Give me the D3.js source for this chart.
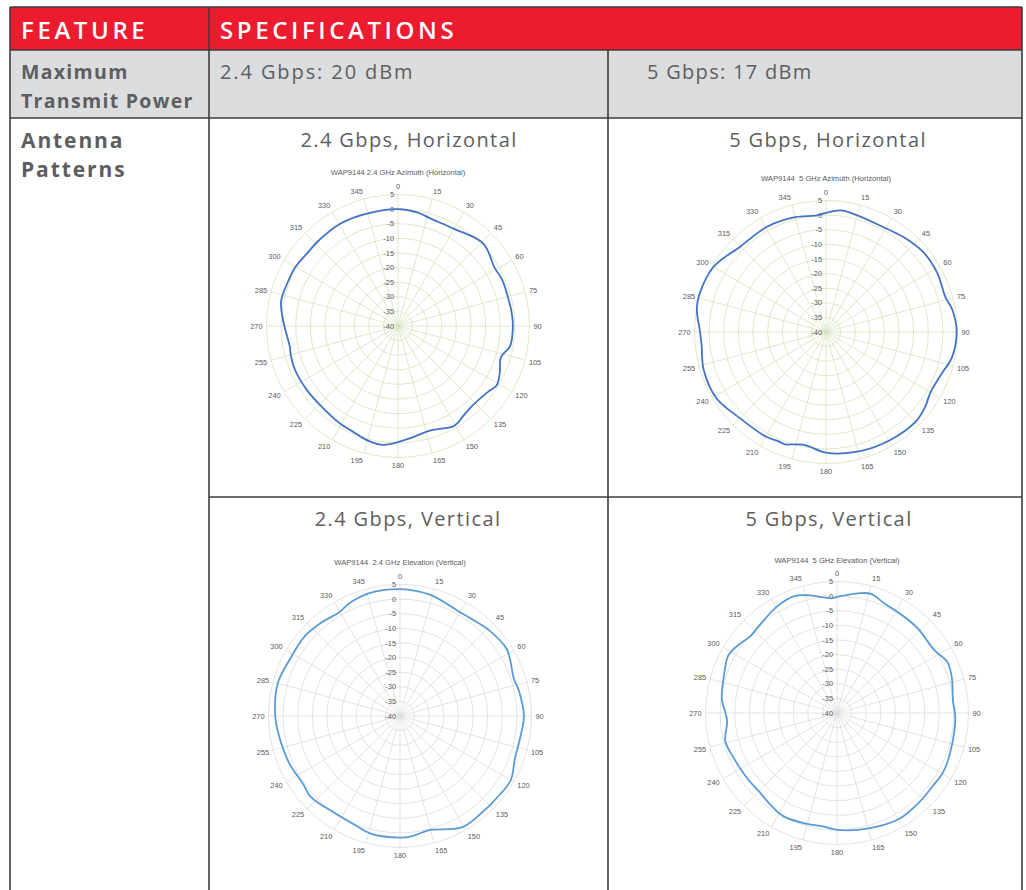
<!DOCTYPE html>
<html lang="en">
<head>
<meta charset="UTF-8">
<title>WAP9144 Antenna Patterns</title>
<script src="https://d3js.org/d3.v7.min.js"></script>
<style>
    body { margin: 0; background: #fff; }
    svg { display: block; }
    .hdr { font-family: "Open Sans", sans-serif; font-size: 24px; font-weight: 600; fill: #fff; letter-spacing: 3.6px; }
    .feat { font-family: "Open Sans", sans-serif; font-weight: 700; fill: #5d5e60; }
    .spec { font-family: "Open Sans", sans-serif; font-weight: 400; fill: #5d5e60; }
    .ptitle { font-family: "Liberation Sans", Arial, sans-serif; font-size: 7.6px; fill: #595959; text-anchor: middle; white-space: pre; }
    .plabel { font-family: "Liberation Sans", Arial, sans-serif; font-size: 7.4px; fill: #595959; }
    .chart { opacity: 0.999; }
</style>
</head>
<body>
<svg id="sheet" width="1026" height="890"></svg>
<script>
// spokes, clockwise from top (degrees)
const spokes = [0, 15, 30, 45, 60, 75, 90, 105, 120, 135, 150, 165,
                180, 195, 210, 225, 240, 255, 270, 285, 300, 315, 330, 345];

// ring labels in dBm
const ringTicks = [5, 0, -5, -10, -15, -20, -25, -30, -35, -40];

// 2.4 GHz azimuth (horizontal)
const az24Angles = [0, 10, 17, 30, 46, 59, 66, 74, 84, 90, 100, 107, 115, 121, 126, 136, 144, 147, 151,
                    158, 163, 176, 187, 195, 203, 211, 224, 235, 247, 255, 259, 273, 282, 291, 300,
                    309, 317, 331, 345];
const az24Gain = [0, -0.6, -1.6, -1.6, 0.6, -1.4, -1.0, -1.1, -0.8, -0.7, -1.0, -3.2, -1.6, -0.6, -1.8, -2.7, -2.0, -1.3, -0.8,
                  -2.0, -2.6, -1.0, 1.0, 0.5, -0.7, -1.2, -2.0, -1.9, -1.7, -2.0, -2.3, -0.6, 0.9, 0.6, 0.5,
                  -0.2, -0.1, 0.2, -0.1];

// 5 GHz azimuth (horizontal)
const az5Angles = [0, 7, 15, 29, 39, 51, 62, 74, 80, 90, 102, 109, 120, 127, 135, 149, 164, 180,
                   190, 195, 200, 204, 210, 225, 239, 253, 264, 270, 280, 286, 300, 315, 331, 345, 355];
const az5Gain = [0.8, 1.9, 1.3, 0.9, 1.9, 3.1, 3.1, 2.6, 3.9, 4.7, 3.9, 2.2, 1.3, 2.5, 3.4, 3.0, 2.4, 1.3,
                 -0.6, -0.2, 0.9, 0.8, 1.3, 1.7, 3.8, 3.8, 2.8, 3.1, 4.9, 5.2, 4.5, 1.4, 1.3, 0.7, 0.0];

// 2.4 GHz elevation (vertical)
const el24Angles = [0, 14, 31, 38, 46, 58, 72, 78, 90, 100, 110, 120, 128, 141, 151, 166, 174, 180,
                    194, 202, 213, 228, 235, 247, 260, 270, 285, 297, 310, 321, 329, 336, 346];
const el24Gain = [3.4, 2.7, 1.0, 1.4, 2.3, 3.1, 1.0, 1.6, 2.4, 1.8, 1.9, 3.8, 3.5, 3.4, 3.6, 0.3, 1.3, 1.6,
                  1.5, 0.4, 0.0, 1.2, 0.5, 1.2, 1.9, 2.7, 3.3, 2.4, 2.5, 1.7, 1.1, 2.3, 3.3];

// 5 GHz elevation (vertical)
const el5Angles = [0, 5, 11, 16, 23, 29, 35, 44, 57, 65, 73, 84, 92, 105, 119, 127, 137, 149, 164, 180,
                   187, 195, 207, 216, 224, 234, 247, 256, 266, 277, 287, 298, 304, 312, 318, 331, 340, 347, 357];
const el5Gain = [-0.3, 0.6, 1.8, 2.4, 0.9, 0.4, 0.2, 0.0, -0.4, 1.6, 1.1, -0.1, 0.5, 0.8, 1.6, 1.2, 1.5, 2.0, 1.0, 0.0,
                 -0.9, -0.7, -0.2, -1.2, -2.1, -2.0, -1.4, -0.6, -2.3, -0.3, 0.6, 2.1, 1.1, -0.4, 0.0, 1.9, 2.6, 1.3, -0.7];

const svg = d3.select("#sheet");

// ---- table ----
const red = "#ed1b2e", grey = "#dcdddf", rule = "#3d3d3d";
const left = 10, right = 1022, col1 = 209, col2 = 608;
const rowTop = 7, row1 = 50, row2 = 118, row3 = 497, bottom = 892;

svg.append("rect").attr("x", left).attr("y", rowTop).attr("width", right - left).attr("height", row1 - rowTop).attr("fill", red);
svg.append("rect").attr("x", left).attr("y", row1).attr("width", right - left).attr("height", row2 - row1).attr("fill", grey);

const lines = [
    [left, rowTop, right, rowTop], [left, row1, right, row1], [left, row2, right, row2],
    [col1, row3, right, row3],
    [left, rowTop, left, bottom], [right, rowTop, right, bottom],
    [col1, rowTop, col1, bottom], [col2, row1, col2, bottom]
];
svg.selectAll(".rule").data(lines).enter().append("line")
    .attr("x1", d => d[0]).attr("y1", d => d[1]).attr("x2", d => d[2]).attr("y2", d => d[3])
    .attr("stroke", rule).attr("stroke-width", 1.6);

svg.append("text").attr("class", "hdr").attr("x", 21).attr("y", 39).text("FEATURE");
svg.append("text").attr("class", "hdr").attr("x", 220).attr("y", 39).text("SPECIFICATIONS");

const featStyle = s => s.style("font-size", "19.5px").style("letter-spacing", "1.3px");
svg.append("text").attr("class", "feat").attr("x", 21).attr("y", 79).call(featStyle).text("Maximum");
svg.append("text").attr("class", "feat").attr("x", 21).attr("y", 108).call(featStyle).text("Transmit Power");
svg.append("text").attr("class", "spec").attr("x", 220).attr("y", 79)
    .style("font-size", "20px").style("letter-spacing", "1.9px").text("2.4 Gbps: 20 dBm");
svg.append("text").attr("class", "spec").attr("x", 647).attr("y", 79)
    .style("font-size", "20px").style("letter-spacing", "1.3px").text("5 Gbps: 17 dBm");

const antStyle = s => s.style("font-size", "21px").style("letter-spacing", "1.9px");
svg.append("text").attr("class", "feat").attr("x", 21).attr("y", 148).call(antStyle).text("Antenna");
svg.append("text").attr("class", "feat").attr("x", 21).attr("y", 177).call(antStyle).text("Patterns");

const subs = [
    { t: "2.4 Gbps, Horizontal", x: 409, y: 147 },
    { t: "5 Gbps, Horizontal", x: 828, y: 147 },
    { t: "2.4 Gbps, Vertical", x: 408, y: 526 },
    { t: "5 Gbps, Vertical", x: 829, y: 526 }
];
svg.selectAll(".sub").data(subs).enter().append("text")
    .attr("class", "spec").attr("x", d => d.x).attr("y", d => d.y)
    .attr("text-anchor", "middle").style("font-size", "20px").style("letter-spacing", "1.4px")
    .text(d => d.t);

// ---- polar charts ----
const R = 131.5;
const r = d3.scaleLinear().domain([-40, 5]).range([0, R]);
const rad = a => a * Math.PI / 180;

function polar(cfg) {
    const g = svg.append("g").attr("class", "chart").attr("transform", `translate(${cfg.cx},${cfg.cy})`);

    g.selectAll(".ring").data(ringTicks.slice(0, -1)).enter().append("circle")
        .attr("r", d => r(d)).attr("fill", "none").attr("stroke", cfg.grid).attr("stroke-width", 0.8);

    g.selectAll(".spoke").data(spokes).enter().append("line")
        .attr("x1", 0).attr("y1", 0)
        .attr("x2", d => R * Math.sin(rad(d))).attr("y2", d => -R * Math.cos(rad(d)))
        .attr("stroke", cfg.grid).attr("stroke-width", 0.8);

    // angle labels sit just outside the rim, anchored away from the centre
    const lr = R + 4;
    g.selectAll(".alab").data(spokes).enter().append("text")
        .attr("class", "plabel")
        .attr("x", d => lr * Math.sin(rad(d)))
        .attr("y", d => -lr * Math.cos(rad(d)) - 4 * Math.cos(rad(d)))
        .attr("text-anchor", d => {
            const s = Math.sin(rad(d));
            return s > 0.05 ? "start" : s < -0.05 ? "end" : "middle";
        })
        .attr("dy", "0.35em")
        .text(d => d);

    g.selectAll(".rlab").data(ringTicks).enter().append("text")
        .attr("class", "plabel")
        .attr("x", -4).attr("y", d => -r(d))
        .attr("text-anchor", "end").attr("dy", "0.35em")
        .text(d => d);

    const line = d3.lineRadial()
        .angle((d, i) => rad(cfg.angles[i]))
        .radius(d => r(d))
        .curve(d3.curveCatmullRomClosed.alpha(0.5));

    g.append("path").datum(cfg.values)
        .attr("d", line).attr("fill", "none")
        .attr("stroke", cfg.color).attr("stroke-width", 1.8).attr("stroke-linejoin", "round");

    g.append("text").attr("class", "ptitle")
        .attr("x", 0).attr("y", cfg.ty - cfg.cy).text(cfg.title);
}

polar({ cx: 398, cy: 326, ty: 175, grid: "#d6e3bc", color: "#4472c4",
        angles: az24Angles, values: az24Gain, title: "WAP9144 2.4 GHz Azimuth (Horizontal)" });
polar({ cx: 826, cy: 332, ty: 181, grid: "#d6e3bc", color: "#4472c4",
        angles: az5Angles, values: az5Gain, title: "WAP9144  5 GHz Azimuth (Horizontal)" });
polar({ cx: 400, cy: 716, ty: 565, grid: "#dcdcdc", color: "#5b9bd5",
        angles: el24Angles, values: el24Gain, title: "WAP9144  2.4 GHz Elevation (Vertical)" });
polar({ cx: 837, cy: 713, ty: 563, grid: "#dcdcdc", color: "#5b9bd5",
        angles: el5Angles, values: el5Gain, title: "WAP9144  5 GHz Elevation (Vertical)" });
</script>
</body>
</html>
